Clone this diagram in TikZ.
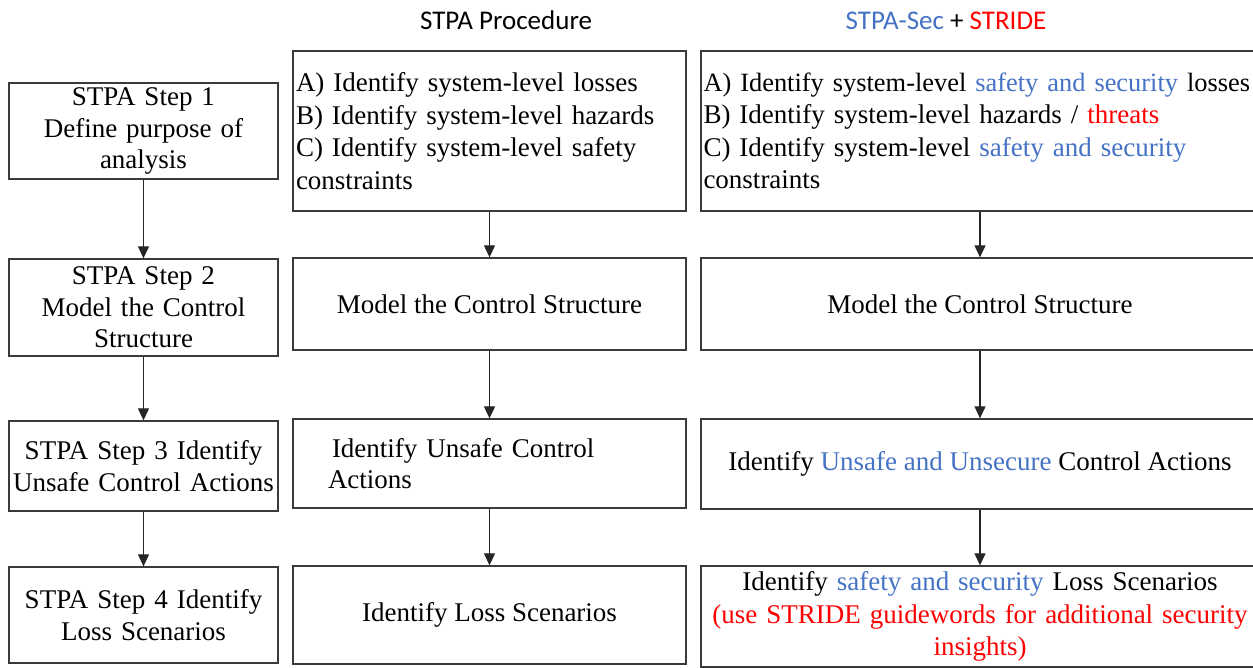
\documentclass[tikz,border=0pt]{standalone}
\usepackage{fontspec}
\setmainfont{Liberation Serif}
\newfontfamily\hdrfont{Carlito}
\usetikzlibrary{arrows.meta}
\definecolor{edge}{HTML}{3A3A3A}
\definecolor{secblue}{HTML}{4472C4}
\definecolor{strred}{HTML}{FF0000}
\tikzset{
  box/.style={draw=edge, line width=1.3pt, inner ysep=0pt,
    font=\fontsize{27}{31.5}\selectfont},
  wide/.style={font=\fontsize{27}{32.5}\selectfont},
  leftcol/.style={box, minimum width=269pt, text width=262pt, inner xsep=3.5pt, align=center},
  midcol/.style={box, minimum width=393pt},
  rightcol/.style={box, minimum width=558pt},
  header/.style={font=\hdrfont\fontsize{27}{30}\selectfont, anchor=base, inner sep=0pt},
  flow/.style={draw=black!85, line width=1.1pt, -{Triangle[width=11pt,length=12pt]}},
}
\newcommand{\secword}[1]{\textcolor{secblue}{#1}}
\newcommand{\redword}[1]{\textcolor{strred}{#1}}
\begin{document}
\begin{tikzpicture}[x=1pt, y=-1pt]
\useasboundingbox (0,0) rectangle (1253,668);

% column headings
\node[header] (h1) at (506,30) {STPA Procedure};
\node[header] (h2) at (946,30) {\textcolor{secblue}{STPA-Sec} + \textcolor{strred}{STRIDE}};

% STPA steps
\node[leftcol, minimum height=96pt] (s1) at (143.5,131) {STPA Step 1\\Define purpose of\\analysis};
\node[leftcol, minimum height=97pt] (s2) at (143.5,307.5) {STPA Step 2\\Model the Control\\Structure};
\node[leftcol, minimum height=90pt] (s3) at (143.5,466) {STPA Step 3 Identify\\Unsafe Control Actions};
\node[leftcol, minimum height=96pt] (s4) at (143.5,615) {STPA Step 4 Identify\\Loss Scenarios};

% STPA procedure
\node[midcol, wide, minimum height=160pt, text width=387pt, inner xsep=3pt, align=left] (m1) at (489.5,131)
  {A) Identify system-level losses\\B) Identify system-level hazards\\C) Identify system-level safety\\constraints};
\node[midcol, minimum height=92pt, align=center] (m2) at (489.5,304) {Model the Control Structure};
\node[midcol, minimum height=89pt, text width=323pt, inner xsep=35pt, align=left] (m3) at (489.5,463.5)
  {\hspace{4pt}Identify Unsafe Control\\Actions};
\node[midcol, minimum height=98pt, align=center] (m4) at (489.5,615) {Identify Loss Scenarios};

% STPA-Sec with STRIDE (first line kept whole and set a touch tighter)
\node[rightcol, wide, minimum height=160pt, text width=553pt, inner xsep=2.5pt, align=left] (r1) at (980,131)
  {\mbox{\fontsize{26.4}{32.5}\selectfont A) Identify system-level \secword{safety and security} losses}\\
   B) Identify system-level hazards / \redword{threats}\\
   C) Identify system-level \secword{safety and security}\\
   constraints};
\node[rightcol, minimum height=92pt, align=center] (r2) at (980,304) {Model the Control Structure};
\node[rightcol, minimum height=90pt, align=center] (r3) at (980,464)
  {Identify \secword{Unsafe and Unsecure} Control Actions};
\node[rightcol, wide, minimum height=101pt, text width=550pt, inner xsep=4pt, align=center] (r4) at (980,616.5)
  {Identify \secword{safety and security} Loss Scenarios\\
   \redword{(use STRIDE guidewords for additional security}\\
   \redword{insights)}};

% flow arrows
\foreach \a/\b in {s1/s2, s2/s3, s3/s4, m1/m2, m2/m3, m3/m4, r1/r2, r2/r3, r3/r4}
  \draw[flow] (\a.south) -- (\b.north);
\end{tikzpicture}
\end{document}
